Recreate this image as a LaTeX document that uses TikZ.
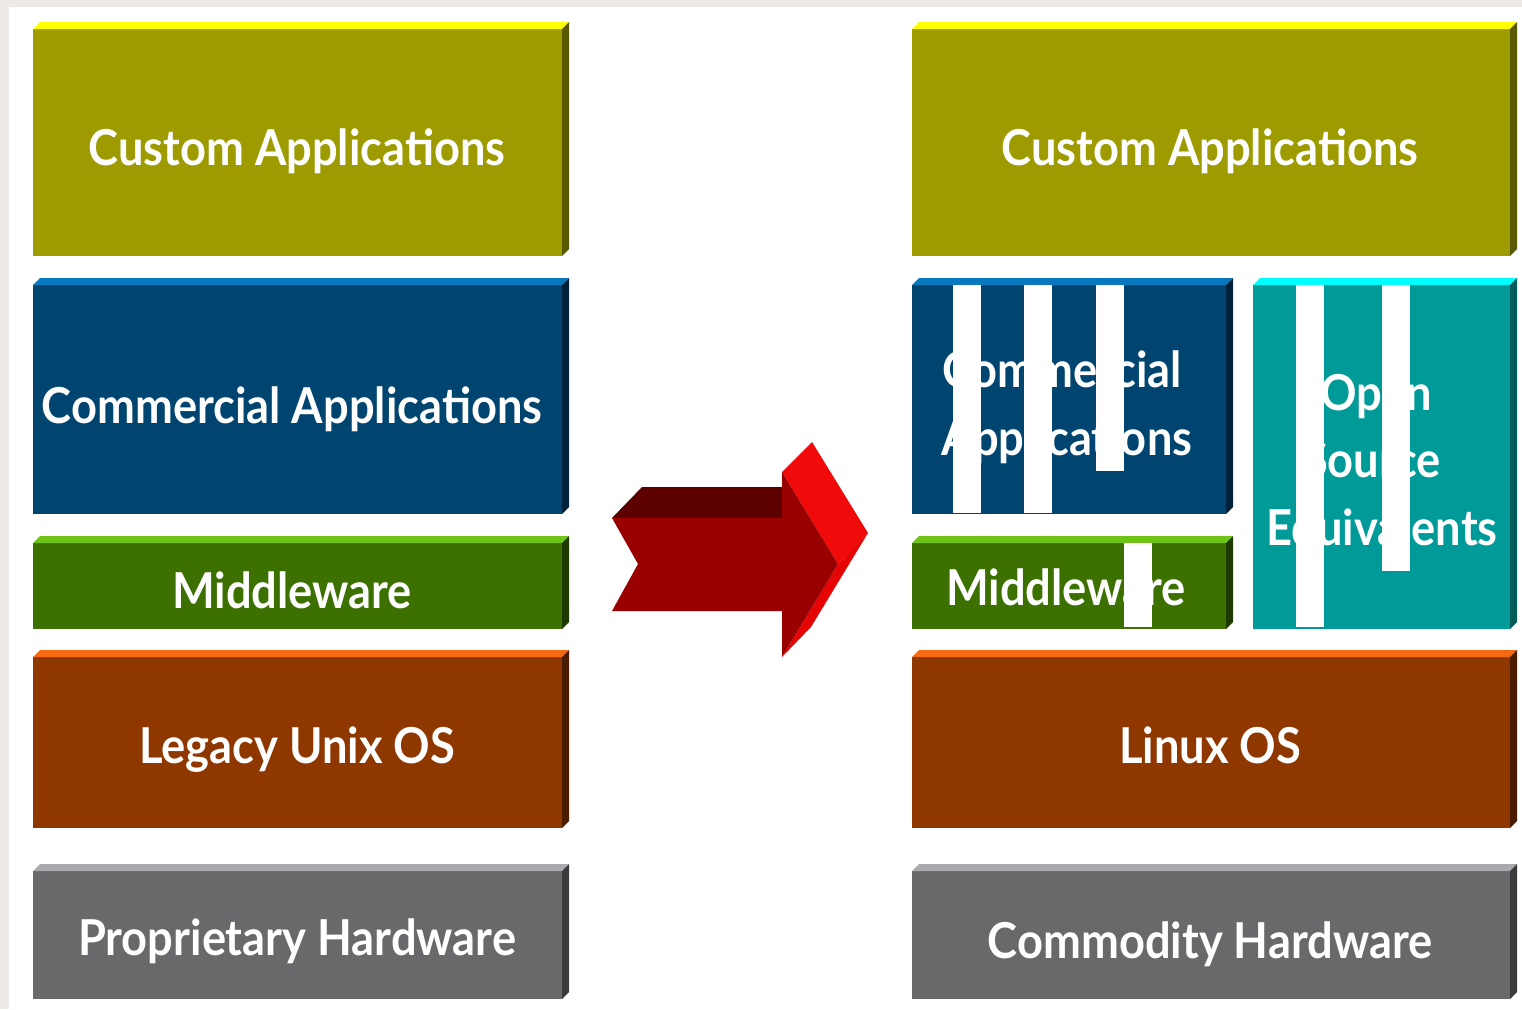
\documentclass[tikz,border=0pt]{standalone}
\usepackage{fontspec}
\setmainfont{Lato}
\usepackage{graphicx}
\definecolor{bgG}{HTML}{EDEAE6}
\definecolor{olF}{HTML}{9E9B00}\definecolor{olT}{HTML}{FFFF00}\definecolor{olS}{HTML}{5A5800}
\definecolor{blF}{HTML}{00456F}\definecolor{blT}{HTML}{0A78BE}\definecolor{blS}{HTML}{00233B}
\definecolor{grF}{HTML}{3C7000}\definecolor{grT}{HTML}{6EC414}\definecolor{grS}{HTML}{1F3A00}
\definecolor{brF}{HTML}{8E3800}\definecolor{brT}{HTML}{F56A10}\definecolor{brS}{HTML}{4B1D00}
\definecolor{gyF}{HTML}{69696B}\definecolor{gyT}{HTML}{A9AAAE}\definecolor{gyS}{HTML}{3B3B3D}
\definecolor{tlF}{HTML}{009A98}\definecolor{tlT}{HTML}{00FFFF}\definecolor{tlS}{HTML}{005B59}
\definecolor{arF}{HTML}{990000}\definecolor{arT}{HTML}{5C0000}\definecolor{arS}{HTML}{F00A0A}\definecolor{arS2}{HTML}{E60505}
\newlength\capw
\newcommand\slab[8]{%
  \node[slabfront, fill=#6, minimum width={#4-#2}, minimum height={#5-#3}] (#1) at (#2,#3) {};
  \fill[#7] (#1.north west) -- ++(7,-7) -- ++({#4-#2},0) -- (#1.north east) -- cycle;
  \fill[#8] (#1.north east) -- ++(7,-7) -- ++(0,{#5-#3}) -- (#1.south east) -- cycle;
}
\newcommand\lt[1]{\scalebox{\sx}[1]{#1}}
\begin{document}
\settowidth\capw{\fontsize{49.5}{59}\selectfont\bfseries Custom Applications}%
\pgfmathsetmacro\sx{417/\capw}%
\begin{tikzpicture}[x=1pt,y=-1pt,
  slabfront/.style={draw=none, inner sep=0pt, outer sep=0pt, anchor=north west, rectangle},
  lbl/.style={text=white, inner sep=0pt, anchor=base, font=\fontsize{49.5}{59}\selectfont\bfseries},
  bar/.style={fill=white, draw=none, inner sep=0pt, outer sep=0pt, anchor=north west, rectangle}]
\useasboundingbox (0,0) rectangle (1522,1009);
\fill[bgG] (0,0) rectangle (1522,1009);
\fill[white] (9,7) rectangle (1522,1009);
% left stack
\slab{lcus}{33}{29}{562}{256}{olF}{olT}{olS}
\slab{lcom}{33}{285}{562}{514}{blF}{blT}{blS}
\slab{lmid}{33}{543}{562}{629}{grF}{grT}{grS}
\slab{lleg}{33}{657}{562}{828}{brF}{brT}{brS}
\slab{lhw}{33}{871}{562}{999}{gyF}{gyT}{gyS}
% right stack
\slab{rcus}{912}{29}{1510}{256}{olF}{olT}{olS}
\slab{rcom}{912}{285}{1226}{514}{blF}{blT}{blS}
\slab{rmid}{912}{543}{1226}{629}{grF}{grT}{grS}
\slab{ros}{1253}{285}{1510}{629}{tlF}{tlT}{tlS}
\slab{rlin}{912}{657}{1510}{828}{brF}{brT}{brS}
\slab{rhw}{912}{871}{1510}{999}{gyF}{gyT}{gyS}
% labels
\node[lbl] (tlcus) at (297,165) {\lt{Custom Applications}};
\node[lbl] (tlcom) at (292,423) {\lt{Commercial Applications}};
\node[lbl] (tlmid) at (292,608) {\lt{Middleware}};
\node[lbl] (tlleg) at (297,763) {\lt{Legacy Unix OS}};
\node[lbl] (tlhw) at (297,955) {\lt{Proprietary Hardware}};
\node[lbl] (trcus) at (1210,165) {\lt{Custom Applications}};
\node[lbl] (trcom1) at (1062,387) {\lt{Commercial}};
\node[lbl] (trcom2) at (1067,455) {\lt{Applications}};
\node[lbl] (trmid) at (1066,605) {\lt{Middleware}};
\node[lbl] (tros1) at (1376,410) {\lt{Open}};
\node[lbl] (tros2) at (1372,477) {\lt{Source}};
\node[lbl] (tros3) at (1382,545) {\lt{Equivalents}};
\node[lbl] (trlin) at (1210,763) {\lt{Linux OS}};
\node[lbl] (trhw) at (1210,958) {\lt{Commodity Hardware}};
% white bars
\node[bar, minimum width=28, minimum height=228] (b1) at (953,285) {};
\node[bar, minimum width=28, minimum height=228] (b2) at (1024,285) {};
\node[bar, minimum width=28, minimum height=186] (b3) at (1096,285) {};
\node[bar, minimum width=28, minimum height=84] (b4) at (1124,543) {};
\node[bar, minimum width=28, minimum height=342] (b5) at (1296,285) {};
\node[bar, minimum width=28, minimum height=286] (b6) at (1382,285) {};
% arrow
\fill[arT] (612,518) -- (642,487) -- (782,487) -- (782,518) -- cycle;
\fill[arS] (782,472) -- (812,442) -- (868,533) -- (838,564) -- cycle;
\fill[arS2] (838,564) -- (868,533) -- (811,627) -- (782,657) -- cycle;
\fill[arF] (612,518) -- (782,518) -- (782,472) -- (838,564) -- (782,657) -- (782,611) -- (612,611) -- (638,564) -- cycle;
\end{tikzpicture}
\end{document}
